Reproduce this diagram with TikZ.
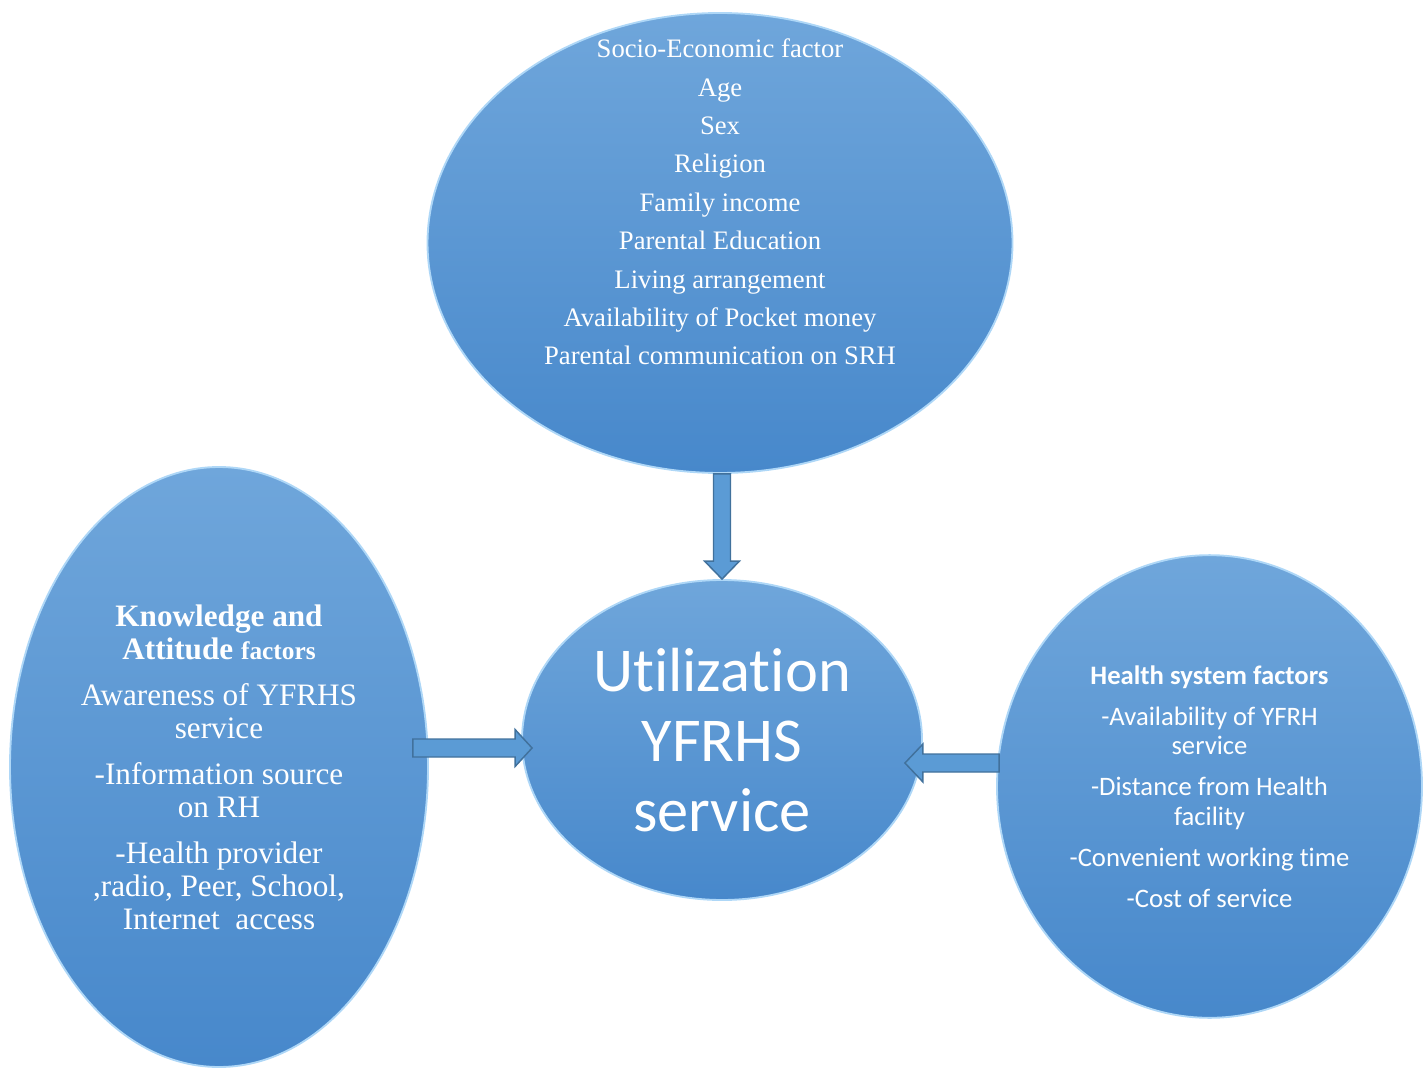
\documentclass[tikz,border=0pt]{standalone}
\usepackage{fontspec}
\setmainfont{Liberation Serif}
\newfontfamily\calibri[Ligatures=NoCommon]{Carlito}
\usetikzlibrary{shapes.geometric, calc, positioning}

\definecolor{ellTop}{HTML}{6FA6DB}
\definecolor{ellBottom}{HTML}{4788CB}
\definecolor{ellRim}{HTML}{AED7F7}
\definecolor{arrowFill}{HTML}{5B9BD5}
\definecolor{arrowLine}{HTML}{41719C}

\begin{document}
\begin{tikzpicture}[x=0.75pt,y=-0.75pt,align=center]
\tikzstyle{factor}=[ellipse,inner sep=0pt,top color=ellTop,bottom color=ellBottom,draw=ellRim,line width=1.4pt,text=white]
\tikzstyle{blockarrow}=[fill=arrowFill,draw=arrowLine,line width=1.1pt,line join=miter]

\useasboundingbox (0,0) rectangle (1426,1069);

% the three groups of factors
\node[factor, minimum width=438.75pt, minimum height=345pt] (socio) at (720,243) {};
\node[text=white, font=\fontsize{20}{28.8}\selectfont] (socioTxt) at ($(socio.center)+(0,-41)$)
  {Socio-Economic factor\\Age\\Sex\\Religion\\Family income\\Parental Education\\
   Living arrangement\\Availability of Pocket money\\Parental communication on SRH};

\node[factor, minimum width=313.5pt, minimum height=450pt,
      font=\fontsize{23.4}{24.75}\selectfont] (know) at (219,767)
  {\textbf{Knowledge and}\\\textbf{Attitude {\fontsize{19}{24.75}\selectfont factors}}\\[9.75pt]
   Awareness of YFRHS\\service\\[9.75pt]
   -Information source\\on RH\\[9.75pt]
   -Health provider\\,radio, Peer, School,\\Internet~ access};

\node[factor, minimum width=318.75pt, minimum height=347pt,
      font=\calibri\fontsize{20}{22.1}\selectfont] (health) at (1209.5,786.5)
  {\textbf{Health system factors}\\[8.6pt]
   -Availability of YFRH\\service\\[8.6pt]
   -Distance from Health\\facility\\[8.6pt]
   -Convenient working time\\[8.6pt]
   -Cost of service};

% outcome
\node[factor, minimum width=300pt, minimum height=240pt,
      font=\calibri\fontsize{46.8}{52.5}\selectfont] (util) at (722,740)
  {Utilization\\YFRHS\\service};

% block arrows into the outcome
\draw[blockarrow] ($(util.north |- socio.south)+(-8.5,0)$) -- ($(util.north)+(-8.5,-18)$)
  -- ++(-9,0) -- (util.north) -- ++(17.5,-18) -- ++(-9,0)
  -- ($(util.north |- socio.south)+(8.5,0)$) -- cycle;

\coordinate (kaTip) at ($(util.west)+(11,8)$);
\draw[blockarrow] (kaTip) -- ++(-17,-18.5) -- ++(0,9.5)
  -- ($(know.east |- kaTip)+(-16,-9)$) -- ++(0,18)
  -- ($(kaTip)+(-17,9)$) -- ++(0,9.5) -- cycle;

\coordinate (hsTip) at ($(util.east)+(-18,23)$);
\draw[blockarrow] (hsTip) -- ++(18,-19) -- ++(0,10)
  -- ($(health.west |- hsTip)+(3,-9)$) -- ++(0,18)
  -- ($(hsTip)+(18,9)$) -- ++(0,10) -- cycle;
\end{tikzpicture}
\end{document}
